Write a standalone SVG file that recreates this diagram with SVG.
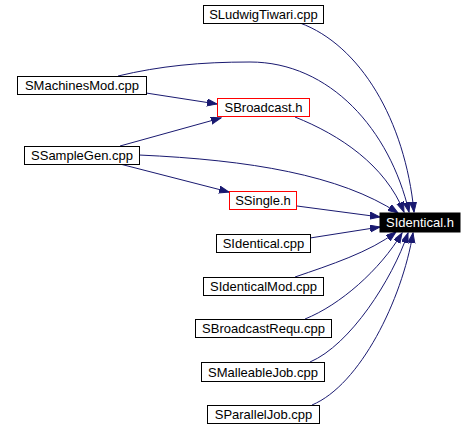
<svg xmlns="http://www.w3.org/2000/svg" width="476" height="430" viewBox="0 0 476 430">
<defs>
<style>
.n rect{fill:#fff;stroke:#000;stroke-width:1}
.n.r rect{stroke:#f00}
.n.b rect{fill:#000}
.n text{font-family:"Liberation Sans",Arial,sans-serif;font-size:13px;text-anchor:middle;fill:#000}
.n.b text{fill:#fff}
#edges path{fill:none;stroke:#191970;stroke-width:1;marker-end:url(#ah)}
</style>
<marker id="ah" markerUnits="userSpaceOnUse" markerWidth="11" markerHeight="8" refX="10" refY="3.5" orient="auto" viewBox="0 0 11 8">
<path d="M0,0 L10,3.5 L0,7 z" fill="#191970" stroke="#191970"/>
</marker>
</defs>
<rect width="476" height="430" fill="#fff"/>
<g id="edges">
<path d="M300,23 C360,45 405,120 414,212"/>
<path d="M118,76 C160,66 200,62 250,62 C330,62 390,130 409,212"/>
<path d="M146,93 L217,104"/>
<path d="M120,146 L221,118"/>
<path d="M295,117 C340,135 385,165 404,212"/>
<path d="M139,155 C250,160 340,175 398,213"/>
<path d="M120,164 L229,192"/>
<path d="M297,206 L380,217"/>
<path d="M310,238 L380,227"/>
<path d="M295,277 C330,265 370,252 396,232"/>
<path d="M305,319 C340,305 380,270 402,233"/>
<path d="M310,362 C350,345 392,280 408,233"/>
<path d="M312,405 C360,385 402,300 413,233"/>
</g>
<g id="n_SLudwigTiwari" class="n"><rect x="203.5" y="5.5" width="120" height="18"/><text x="263.5" y="19">SLudwigTiwari.cpp</text></g>
<g id="n_SMachinesMod" class="n"><rect x="17.5" y="76.5" width="129" height="18"/><text x="82" y="90">SMachinesMod.cpp</text></g>
<g id="n_SBroadcast_h" class="n r"><rect x="217.5" y="98.5" width="92" height="18"/><text x="263.5" y="112">SBroadcast.h</text></g>
<g id="n_SSampleGen" class="n"><rect x="24.5" y="146.5" width="115" height="18"/><text x="82" y="160">SSampleGen.cpp</text></g>
<g id="n_SSingle_h" class="n r"><rect x="229.5" y="191.5" width="67" height="18"/><text x="263" y="205">SSingle.h</text></g>
<g id="n_SIdentical_h" class="n b"><rect x="380" y="213" width="80" height="19"/><text x="420" y="227">SIdentical.h</text></g>
<g id="n_SIdentical_cpp" class="n"><rect x="216.5" y="234.5" width="94" height="18"/><text x="263.5" y="248">SIdentical.cpp</text></g>
<g id="n_SIdenticalMod" class="n"><rect x="203.5" y="277.5" width="120" height="18"/><text x="263.5" y="291">SIdenticalMod.cpp</text></g>
<g id="n_SBroadcastRequ" class="n"><rect x="195.5" y="319.5" width="136" height="18"/><text x="263.5" y="333">SBroadcastRequ.cpp</text></g>
<g id="n_SMalleableJob" class="n"><rect x="201.5" y="362.5" width="123" height="19"/><text x="263" y="377">SMalleableJob.cpp</text></g>
<g id="n_SParallelJob" class="n"><rect x="207.5" y="405.5" width="112" height="18"/><text x="263.5" y="419">SParallelJob.cpp</text></g>
</svg>
